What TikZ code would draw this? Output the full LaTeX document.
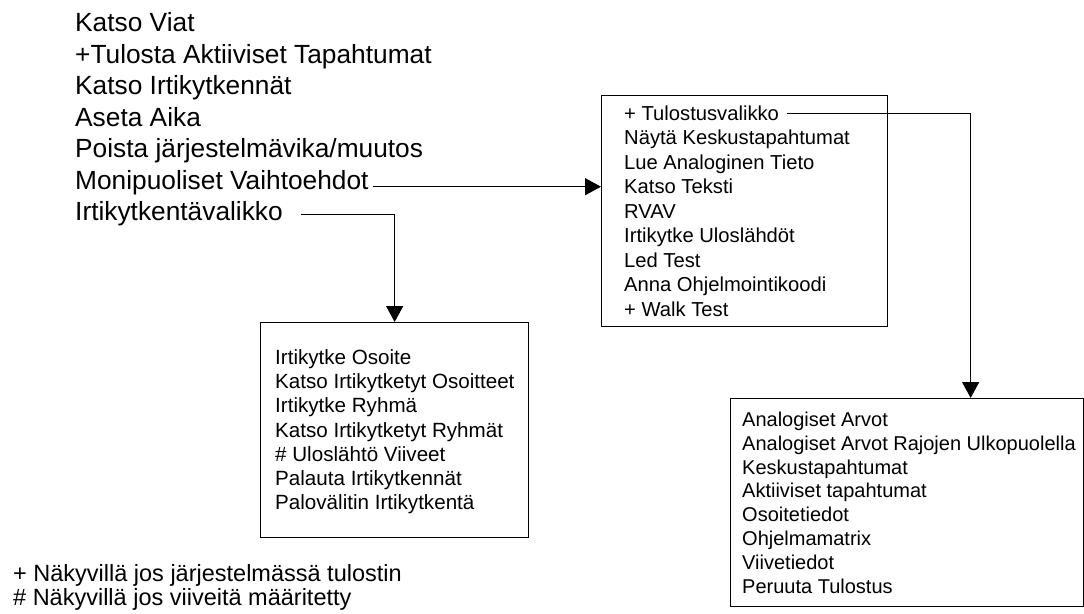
\documentclass[tikz,border=0pt]{standalone}
\usepackage{fontspec}
\setmainfont{Liberation Sans}
\usetikzlibrary{arrows.meta}

\begin{document}
\begin{tikzpicture}[x=1pt, y=-1pt,
    item/.style={anchor=base west, inner sep=0pt,
        font=\fontsize{26.3}{31.5}\selectfont},
    menubox/.style={draw=black, line width=1.3pt, anchor=north west, inner sep=0pt},
    boxtext/.style={anchor=base west, inner sep=0pt, align=left},
    note/.style={anchor=base west, inner sep=0pt, align=left,
        font=\fontsize{23.5}{24}\selectfont},
    link/.style={draw=black, line width=1.3pt, -{Triangle[length=16pt,width=17pt]}}
]
    \useasboundingbox (0,0) rectangle (1084,613);
    % main menu
    \node[item] (viat) at (75,31.7) {Katso Viat};
    \node[item] (tulosta) at (75,63.2) {+Tulosta Aktiiviset Tapahtumat};
    \node[item] (katso) at (75,94.7) {Katso Irtikytkennät};
    \node[item] (aika) at (75,126.2) {Aseta Aika};
    \node[item] (poista) at (75,157.7) {Poista järjestelmävika/muutos};
    \node[item] (moni) at (75,189.2) {Monipuoliset Vaihtoehdot};
    \node[item] (irtik) at (75,220.7) {Irtikytkentävalikko};
    % submenus (base = last line)
    \node[menubox, minimum width=286pt, minimum height=231pt] (box1) at (601,95) {};
    \node[boxtext, font=\fontsize{20.2}{24.5}\selectfont] (tulo) at (624,120.2) {+ Tulostusvalikko};
    \node[boxtext, font=\fontsize{20.2}{24.5}\selectfont] (box1txt) at (624,316.2)
        {Näytä Keskustapahtumat\\Lue Analoginen Tieto\\Katso Teksti\\RVAV\\
         Irtikytke Uloslähdöt\\Led Test\\Anna Ohjelmointikoodi\\+ Walk Test};
    \node[menubox, minimum width=268pt, minimum height=215pt] (box2) at (260,322) {};
    \node[boxtext, font=\fontsize{20.6}{24.2}\selectfont] (box2txt) at (275,509.6)
        {Irtikytke Osoite\\Katso Irtikytketyt Osoitteet\\Irtikytke Ryhmä\\
         Katso Irtikytketyt Ryhmät\\\# Uloslähtö Viiveet\\Palauta Irtikytkennät\\
         Palovälitin Irtikytkentä};
    \node[menubox, minimum width=353pt, minimum height=208pt] (box3) at (730,398) {};
    \node[boxtext, font=\fontsize{20}{23.9}\selectfont] (box3txt) at (742,593.5)
        {Analogiset Arvot\\Analogiset Arvot Rajojen Ulkopuolella\\Keskustapahtumat\\
         Aktiiviset tapahtumat\\Osoitetiedot\\Ohjelmamatrix\\Viivetiedot\\
         Peruuta Tulostus};
    % notes
    \node[note] (note1) at (13,581.4) {+ Näkyvillä jos järjestelmässä tulostin};
    \node[note] (note2) at (13,605) {\# Näkyvillä jos viiveitä määritetty};
    % links
    \draw[link] ([xshift=4pt,yshift=2.5pt]moni.base east)
        -- ([yshift=2.5pt]moni.base east -| box1.west);
    \draw[link] ([xshift=18.5pt,yshift=6pt]irtik.base east) -| (box2.north);
    \draw[link] ([xshift=8pt,yshift=7pt]tulo.base east) -| ([xshift=63.5pt]box3.north);
\end{tikzpicture}
\end{document}
